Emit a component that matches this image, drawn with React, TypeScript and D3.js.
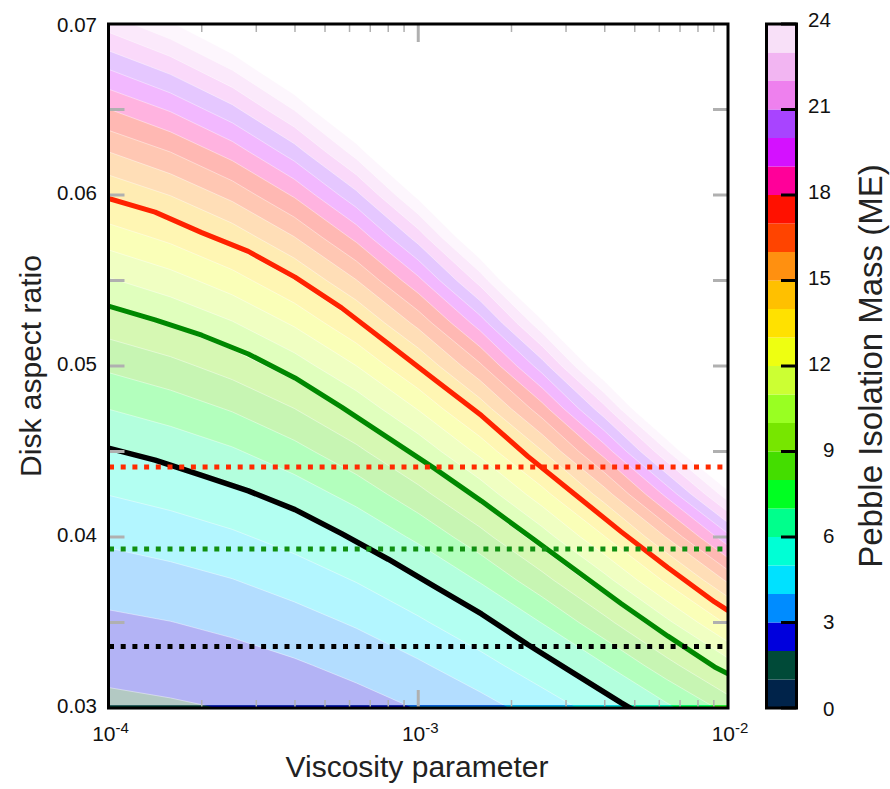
import React from 'react';
import * as d3 from 'd3';

// ---- data ----
// log10 of viscosity parameter for the columns of the mass grid
const logAlphaGrid = [-4, -3.8, -3.6, -3.4, -3.2, -3.0, -2.8, -2.6, -2.4, -2.2, -2.0];
// disk aspect ratio for the rows of the mass grid
const aspectGrid = [0.03, 0.0325, 0.035, 0.0375, 0.04, 0.0425, 0.045, 0.0475, 0.05, 0.0525, 0.055, 0.0575, 0.06, 0.0625, 0.065, 0.0675, 0.07];
// pebble isolation mass (Earth masses), one row per aspect ratio
const massGrid = [
  [1.77, 1.88, 2.04, 2.27, 2.59, 3.04, 3.63, 4.43, 5.45, 6.76, 8.31],
  [2.25, 2.39, 2.59, 2.88, 3.29, 3.86, 4.62, 5.63, 6.93, 8.59, 10.56],
  [2.81, 2.98, 3.23, 3.6, 4.11, 4.83, 5.77, 7.03, 8.66, 10.73, 13.19],
  [3.45, 3.67, 3.98, 4.43, 5.06, 5.94, 7.1, 8.65, 10.65, 13.2, 16.22],
  [4.19, 4.45, 4.83, 5.37, 6.14, 7.2, 8.61, 10.5, 12.93, 16.02, 19.69],
  [5.02, 5.34, 5.79, 6.44, 7.36, 8.64, 10.33, 12.59, 15.51, 19.22, 23.61],
  [5.96, 6.34, 6.87, 7.65, 8.74, 10.26, 12.26, 14.95, 18.41, 22.81, 28.03],
  [7.01, 7.46, 8.09, 8.99, 10.28, 12.06, 14.42, 17.58, 21.65, 26.83, 32.97],
  [8.18, 8.7, 9.43, 10.49, 11.99, 14.07, 16.82, 20.5, 25.25, 31.29, 38.45],
  [9.47, 10.07, 10.92, 12.14, 13.88, 16.29, 19.47, 23.73, 29.23, 36.22, 44.51],
  [10.89, 11.58, 12.55, 13.96, 15.96, 18.73, 22.39, 27.29, 33.61, 41.65, 51.18],
  [12.44, 13.23, 14.34, 15.95, 18.24, 21.4, 25.58, 31.18, 38.4, 47.59, 58.48],
  [14.14, 15.03, 16.3, 18.13, 20.72, 24.31, 29.07, 35.42, 43.63, 54.07, 66.44],
  [15.98, 16.99, 18.42, 20.49, 23.42, 27.48, 32.85, 40.04, 49.32, 61.11, 75.1],
  [17.97, 19.11, 20.72, 23.05, 26.34, 30.91, 36.95, 45.04, 55.47, 68.74, 84.48],
  [20.13, 21.41, 23.2, 25.81, 29.5, 34.62, 41.38, 50.44, 62.12, 76.99, 94.6],
  [22.45, 23.87, 25.88, 28.79, 32.9, 38.61, 46.15, 56.25, 69.29, 85.86, 105.51],
];

// solid curves (alpha, aspect ratio)
const lineAlpha = [1e-4, 1.414e-4, 2e-4, 2.828e-4, 4e-4, 5.657e-4, 8e-4, 1.131e-3, 1.6e-3, 2.263e-3, 3.2e-3, 4.525e-3, 6.4e-3, 9.051e-3, 1e-2];
const redLine = [0.0598, 0.059, 0.0578, 0.0567, 0.0552, 0.0534, 0.0513, 0.0492, 0.0471, 0.0447, 0.0425, 0.0403, 0.0382, 0.0362, 0.0357];
const greenLine = [0.0535, 0.0527, 0.0518, 0.0507, 0.0493, 0.0476, 0.0458, 0.044, 0.0421, 0.0401, 0.0381, 0.0361, 0.0342, 0.0324, 0.032];
const blackLine = [0.0452, 0.0445, 0.0436, 0.0427, 0.0416, 0.0402, 0.0387, 0.0371, 0.0355, 0.0337, 0.032, 0.0303, 0.0287, 0.0273, 0.0269];

// horizontal dotted lines (aspect ratio)
const dottedLevels = [
  { h: 0.0441, color: '#ff2a00' },
  { h: 0.0393, color: '#118f11' },
  { h: 0.0336, color: '#000000' },
];

// colour levels of the bar, 0..24 in steps of 1
const levelBounds = [0, 1, 2, 3, 4, 5, 6, 7, 8, 9, 10, 11, 12, 13, 14, 15, 16, 17, 18, 19, 20, 21, 22, 23, 24];
const levelColors = ['#00234a', '#004a38', '#0000dd', '#008cff', '#00e1ff', '#00ffd5', '#00ff8c', '#00ff22', '#44dd00', '#77e600', '#99ff22', '#ccff33', '#eeff11', '#ffe100', '#ffc000', '#ff9010', '#ff4400', '#ff1100', '#ff0099', '#d411ff', '#a844ff', '#ee80ee', '#f2b5f2', '#f8e0f8'];
const colorbarTicks = [0, 3, 6, 9, 12, 15, 18, 21, 24];

const yTickLabels = [0.03, 0.04, 0.05, 0.06, 0.07];
const yGreyTicks = [0.035, 0.04, 0.045, 0.05, 0.055, 0.06, 0.065];
const xMajor = [1e-4, 1e-3, 1e-2];
const xMajorExp = ['-4', '-3', '-2'];
const xMinor = [2e-4, 3e-4, 4e-4, 5e-4, 6e-4, 7e-4, 8e-4, 9e-4, 2e-3, 3e-3, 4e-3, 5e-3, 6e-3, 7e-3, 8e-3, 9e-3];

const FONT = '"Liberation Sans", Arial, Helvetica, sans-serif';

export default function App() {
  const X0 = 108.5, X1 = 728, Y0 = 24, Y1 = 708;
  const xScale = d3.scaleLog().domain([1e-4, 1e-2]).range([X0, X1]);
  const yScale = d3.scaleLinear().domain([0.03, 0.07]).range([Y1, Y0]);

  const n = logAlphaGrid.length;
  const m = aspectGrid.length;
  const values: number[] = [];
  for (let j = 0; j < m; j++) for (let i = 0; i < n; i++) values.push(massGrid[j][i]);

  const interpIdx = (arr: number[], c: number) => {
    let t = c - 0.5;
    t = Math.max(0, Math.min(arr.length - 1, t));
    const k = Math.min(arr.length - 2, Math.floor(t));
    const f = t - k;
    return arr[k] + (arr[k + 1] - arr[k]) * f;
  };
  const fx = (c: number) => xScale(Math.pow(10, interpIdx(logAlphaGrid, c)));
  const fy = (c: number) => yScale(interpIdx(aspectGrid, c));

  const proj = d3.geoTransform({
    point: function (this: any, x: number, y: number) {
      this.stream.point(fx(x), fy(y));
    },
  });
  const geo = d3.geoPath(proj as any);
  const contours = d3.contours().size([n, m]).thresholds(levelBounds)(values);

  const blend = (c: string) => d3.interpolateRgb('#ffffff', c)(0.3);
  const fillFor = (v: number) => (v >= 24 ? '#ffffff' : blend(levelColors[v]));
  const solidFor = (v: number) => (v >= 24 ? '#ffffff' : levelColors[v]);

  const line = d3
    .line<number>()
    .x((_, i) => xScale(lineAlpha[i]))
    .y((d) => yScale(d));

  const cbX0 = 766.5, cbX1 = 796.5;
  const cbScale = d3.scaleLinear().domain([0, 24]).range([Y1, Y0]);
  const cbLabelScale = d3.scaleLinear().domain([0, 24]).range([708, 19]);

  const grey = '#b0b0b0';

  return (
    <svg width={890} height={789} style={{ position: 'absolute', left: 0, top: 0, background: '#fff' }} fontFamily={FONT}>
      <defs>
        <clipPath id="plotClip">
          <rect x={X0} y={Y0} width={X1 - X0} height={Y1 - Y0} />
        </clipPath>
        <clipPath id="bottomStrip">
          <rect x={X0} y={Y1 - 2.5} width={X1 - X0} height={2.5} />
        </clipPath>
      </defs>
      <rect x={0} y={0} width={890} height={789} fill="#fff" />
      <g clipPath="url(#plotClip)">
        {contours.map((c, i) => (
          <path key={i} d={geo(c as any) || ''} fill={fillFor(c.value)} stroke="#ffffff" strokeOpacity={0.6} strokeWidth={0.7} />
        ))}
      </g>
      <g clipPath="url(#bottomStrip)">
        {contours.map((c, i) => (
          <path key={i} d={geo(c as any) || ''} fill={solidFor(c.value)} stroke="none" />
        ))}
      </g>
      <g clipPath="url(#plotClip)">
        <path d={line(blackLine) || ''} fill="none" stroke="#000" strokeWidth={5.5} strokeLinejoin="round" />
        <path d={line(greenLine) || ''} fill="none" stroke="#008800" strokeWidth={5} strokeLinejoin="round" />
        <path d={line(redLine) || ''} fill="none" stroke="#ff2200" strokeWidth={5} strokeLinejoin="round" />
        {dottedLevels.map((d, i) => (
          <line key={i} x1={X0 + 0.5} x2={X1} y1={yScale(d.h)} y2={yScale(d.h)} stroke={d.color} strokeWidth={5} strokeDasharray="5 6.7" />
        ))}
      </g>
      {/* grey ticks */}
      {yGreyTicks.map((t, i) => (
        <g key={i}>
          <line x1={X0 + 1.5} x2={X0 + 16} y1={yScale(t)} y2={yScale(t)} stroke={grey} strokeWidth={3} />
          <line x1={X1 - 15} x2={X1 - 1} y1={yScale(t)} y2={yScale(t)} stroke={grey} strokeWidth={3} />
        </g>
      ))}
      {xMinor.map((t, i) => (
        <g key={i}>
          <line x1={xScale(t)} x2={xScale(t)} y1={Y1 - 8} y2={Y1} stroke={grey} strokeWidth={1.5} />
          <line x1={xScale(t)} x2={xScale(t)} y1={Y0} y2={Y0 + 8} stroke={grey} strokeWidth={1.5} />
        </g>
      ))}
      <line x1={xScale(1e-3)} x2={xScale(1e-3)} y1={Y1 - 18} y2={Y1} stroke={grey} strokeWidth={3} />
      <line x1={xScale(1e-3)} x2={xScale(1e-3)} y1={Y0} y2={Y0 + 18} stroke={grey} strokeWidth={3} />
      {/* frame */}
      <rect x={X0} y={Y0} width={X1 - X0} height={Y1 - Y0} fill="none" stroke="#000" strokeWidth={3} />
      {/* y labels */}
      {yTickLabels.map((t, i) => (
        <text key={i} x={97} y={Math.max(yScale(t) - 3, 24.5)} textAnchor="end" dominantBaseline="central" fontSize={20.5} fill="#111">
          {t.toFixed(2)}
        </text>
      ))}
      {/* x labels */}
      {xMajor.map((t, i) => (
        <text key={i} x={xScale(t) + 2} y={741} textAnchor="middle" fontSize={21} fill="#111">
          10
          <tspan fontSize={15} dy={-8}>
            {xMajorExp[i]}
          </tspan>
        </text>
      ))}
      <text x={417} y={777} textAnchor="middle" fontSize={30} fill="#222">
        Viscosity parameter
      </text>
      <text transform="translate(30,366) rotate(-90)" textAnchor="middle" dominantBaseline="central" fontSize={30} fill="#222">
        Disk aspect ratio
      </text>
      {/* colorbar */}
      {levelColors.map((c, i) => (
        <rect key={i} x={cbX0} width={cbX1 - cbX0} y={cbScale(levelBounds[i + 1])} height={cbScale(levelBounds[i]) - cbScale(levelBounds[i + 1])} fill={c} />
      ))}
      {colorbarTicks.map((t, i) => (
        <line key={i} x1={781} x2={cbX1} y1={cbScale(t)} y2={cbScale(t)} stroke="#000" strokeWidth={3} />
      ))}
      <rect x={cbX0} y={Y0} width={cbX1 - cbX0} height={Y1 - Y0} fill="none" stroke="#000" strokeWidth={3} />
      {colorbarTicks.map((t, i) => (
        <text key={i} x={808 + (2 - String(t).length) * 15} y={cbLabelScale(t)} dominantBaseline="central" fontSize={20.5} fill="#111">
          {t}
        </text>
      ))}
      <text transform="translate(870,366) rotate(-90)" textAnchor="middle" dominantBaseline="central" fontSize={33} fill="#222">
        Pebble Isolation Mass (ME)
      </text>
    </svg>
  );
}
